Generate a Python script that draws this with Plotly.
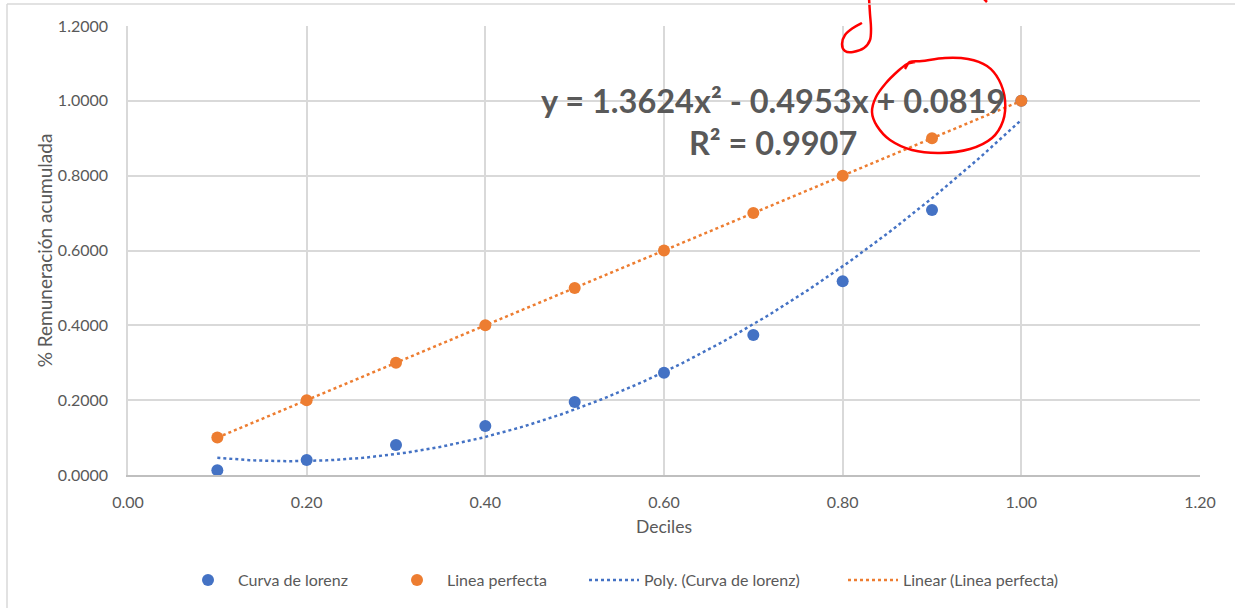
import numpy as np
import plotly.graph_objects as go

# ---- data ----
deciles = [0.1, 0.2, 0.3, 0.4, 0.5, 0.6, 0.7, 0.8, 0.9, 1.0]
curva_lorenz = [0.013, 0.040, 0.080, 0.131, 0.195, 0.273, 0.374, 0.518, 0.708, 1.000]
linea_perfecta = [0.1, 0.2, 0.3, 0.4, 0.5, 0.6, 0.7, 0.8, 0.9, 1.0]
poly_coefs = [1.3624, -0.4953, 0.0819]   # Excel trendline equation
r_squared = 0.9907
x_ticks = [0.0, 0.2, 0.4, 0.6, 0.8, 1.0, 1.2]
y_ticks = [0.0, 0.2, 0.4, 0.6, 0.8, 1.0, 1.2]

W, H = 1235, 608
L, R, T, B = 128, 35, 26, 133
PW, PH = W - L - R, H - T - B

def px(x):
    return (x - L) / PW

def py(y):
    return (H - B - y) / PH

BLUE = "#4472C4"
ORANGE = "#ED7D31"
GRAY = "#595959"
FONT = "Lato"

# trendlines
xs = np.linspace(min(deciles), max(deciles), 200)
poly_y = np.polyval(poly_coefs, xs)
lin_c = np.polyfit(deciles, linea_perfecta, 1)
lin_y = np.polyval(lin_c, xs)

fig = go.Figure()
dot = "3px,3px"
fig.add_trace(go.Scatter(x=xs, y=poly_y, mode="lines", name="Poly. (Curva de lorenz)",
                         line=dict(color=BLUE, width=2.5, dash=dot), legend="legend4"))
fig.add_trace(go.Scatter(x=xs, y=lin_y, mode="lines", name="Linear (Linea perfecta)",
                         line=dict(color=ORANGE, width=2.5, dash=dot), legend="legend5"))
fig.add_trace(go.Scatter(x=deciles, y=curva_lorenz, mode="markers", name="Curva de lorenz",
                         marker=dict(color=BLUE, size=12), legend="legend2"))
fig.add_trace(go.Scatter(x=deciles, y=linea_perfecta, mode="markers", name="Linea perfecta",
                         marker=dict(color=ORANGE, size=12), legend="legend3"))

# equation annotation
eq_text = ("y = {:.4f}x² - {:.4f}x + {:.4f}<br>R² = {:.4f}"
           .format(poly_coefs[0], -poly_coefs[1], poly_coefs[2], r_squared))
fig.add_annotation(x=px(773), y=py(121), xref="paper", yref="paper", text=eq_text,
                   showarrow=False, xanchor="center", yanchor="middle", align="center",
                   font=dict(family=FONT, size=32.5, color=GRAY, weight="bold"))


def smooth_path(pts):
    pts = [(px(a), py(b)) for a, b in pts]
    n = len(pts)
    d = "M{},{}".format(*pts[0])
    for i in range(n - 1):
        p0 = pts[i - 1] if i > 0 else pts[i]
        p1 = pts[i]
        p2 = pts[i + 1]
        p3 = pts[i + 2] if i + 2 < n else pts[i + 1]
        c1 = (p1[0] + (p2[0] - p0[0]) / 6, p1[1] + (p2[1] - p0[1]) / 6)
        c2 = (p2[0] - (p3[0] - p1[0]) / 6, p2[1] - (p3[1] - p1[1]) / 6)
        d += " C{},{} {},{} {},{}".format(c1[0], c1[1], c2[0], c2[1], p2[0], p2[1])
    return d

RED = "#FF0000"
circle_pts = [(905, 69), (910, 62), (922, 61), (945, 58), (968, 59), (987, 66), (999, 80),
              (1005, 100), (1003, 121), (992, 138), (970, 149), (940, 153), (912, 150),
              (890, 140), (877, 126), (872, 112), (876, 97), (886, 83), (898, 71), (907, 64),
              (915, 62)]
hook_pts = [(869, -2), (870, 14), (871, 28), (870, 40), (864, 48), (853, 52), (845, 51),
            (842, 44), (845, 35), (853, 28), (862, 23)]
fig.add_shape(type="path", xref="paper", yref="paper", path=smooth_path(circle_pts),
              line=dict(color=RED, width=2.5))
fig.add_shape(type="path", xref="paper", yref="paper", path=smooth_path(hook_pts),
              line=dict(color=RED, width=2.5))
fig.add_shape(type="line", xref="paper", yref="paper", x0=px(984), y0=py(-1), x1=px(987), y1=py(2),
              line=dict(color=RED, width=2.5))

# outer chart border (left and top)
fig.add_shape(type="line", xref="paper", yref="paper", x0=px(7), y0=py(4), x1=px(7), y1=py(610),
              line=dict(color="#D9D9D9", width=1.5))
fig.add_shape(type="line", xref="paper", yref="paper", x0=px(7), y0=py(4), x1=px(1240), y1=py(4),
              line=dict(color="#D9D9D9", width=1.5))

legend_common = dict(orientation="h", yanchor="middle", y=py(580), xanchor="left",
                     bgcolor="rgba(0,0,0,0)", font=dict(family=FONT, size=16, color=GRAY),
                     borderwidth=0, itemwidth=50)

fig.update_layout(
    width=W, height=H,
    margin=dict(l=L, r=R, t=T, b=B, autoexpand=False),
    paper_bgcolor="white", plot_bgcolor="white",
    font=dict(family=FONT, size=16, color=GRAY),
    showlegend=True,
    legend2=dict(x=px(178), **legend_common),
    legend3=dict(x=px(387), **legend_common),
    legend4=dict(x=px(584), **legend_common),
    legend5=dict(x=px(843), **legend_common),
    xaxis=dict(range=[0, 1.2], tickvals=x_ticks, ticktext=["{:.2f}".format(v) for v in x_ticks],
               showgrid=True, gridcolor="#D9D9D9", gridwidth=1.5,
               showline=True, linecolor="#BFBFBF", linewidth=1.5, mirror=False,
               zeroline=False, ticks="", ticklabelstandoff=12,
               tickfont=dict(family=FONT, size=16, color=GRAY),
               title=dict(text="Deciles", standoff=11, font=dict(family=FONT, size=17.5, color=GRAY))),
    yaxis=dict(range=[0, 1.2], tickvals=y_ticks, ticktext=["{:.4f}".format(v) for v in y_ticks],
               showgrid=True, gridcolor="#D9D9D9", gridwidth=1.5,
               showline=True, linecolor="#D9D9D9", linewidth=1.5, mirror=False,
               zeroline=False, ticks="", ticklabelstandoff=15,
               tickfont=dict(family=FONT, size=16, color=GRAY),
               title=dict(text="% Remuneración acumulada", standoff=0,
                          font=dict(family=FONT, size=19, color=GRAY))),
)

fig.write_html("out.html", post_script="document.body.style.margin='0';",
               config={"displayModeBar": False})
